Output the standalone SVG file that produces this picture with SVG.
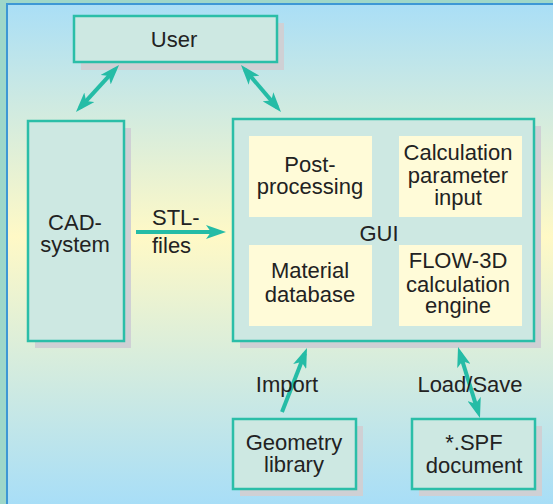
<svg xmlns="http://www.w3.org/2000/svg" width="553" height="504" viewBox="0 0 553 504">
<defs>
<linearGradient id="bg" x1="0" y1="0" x2="0" y2="504" gradientUnits="userSpaceOnUse">
<stop offset="0" stop-color="#a8def7"/>
<stop offset="0.47" stop-color="#fff9c6"/>
<stop offset="1" stop-color="#a8def7"/>
</linearGradient>
<marker id="ah" markerUnits="userSpaceOnUse" markerWidth="20" markerHeight="14" refX="14" refY="7" orient="auto-start-reverse" viewBox="0 0 20 14">
<path d="M0,0 L20,7 L0,14 L5,7 z" fill="#25bca6"/>
</marker>
</defs>
<style>
.box{fill:#cde8e2;stroke:#2bbea8;stroke-width:2.5}
.sh{fill:#cfd0d4}
.inner{fill:#fffbd8}
.t{font-family:"Liberation Sans",Arial,sans-serif;font-size:22px;fill:#222;text-anchor:middle}
.l{text-anchor:start}
.c{stroke:#25bca6;stroke-width:4;fill:none}
</style>
<rect x="0" y="0" width="553" height="504" fill="url(#bg)"/>
<rect x="0" y="0" width="6" height="504" fill="#9ed7c9"/>
<rect x="0" y="0" width="553" height="3" fill="#9ed7c9"/>
<rect x="6" y="3" width="2" height="501" fill="#3d97d5"/>
<rect x="6" y="3" width="547" height="2" fill="#3d97d5"/>

<g id="user">
<rect class="sh" x="81" y="23" width="203" height="47"/>
<rect class="box" x="74" y="16" width="203" height="46"/>
<text class="t" x="174" y="47">User</text>
</g>
<g id="cad">
<rect class="sh" x="35" y="128" width="96" height="220"/>
<rect class="box" x="28" y="121" width="96" height="220"/>
<text class="t" x="75" y="230">CAD-</text>
<text class="t" x="75" y="252">system</text>
</g>
<g id="gui">
<rect class="sh" x="240" y="126" width="301" height="222"/>
<rect class="box" x="233" y="119" width="301" height="222"/>
<text class="t" x="379" y="241">GUI</text>
</g>
<g id="post">
<rect class="inner" x="249" y="136" width="123" height="81"/>
<text class="t" x="310" y="172">Post-</text>
<text class="t" x="310" y="194">processing</text>
</g>
<g id="calcparam">
<rect class="inner" x="399" y="136" width="123" height="81"/>
<text class="t" x="458" y="160">Calculation</text>
<text class="t" x="458" y="183">parameter</text>
<text class="t" x="458" y="205">input</text>
</g>
<g id="material">
<rect class="inner" x="249" y="245" width="123" height="81"/>
<text class="t" x="310" y="278">Material</text>
<text class="t" x="310" y="302">database</text>
</g>
<g id="engine">
<rect class="inner" x="399" y="245" width="123" height="81"/>
<text class="t" x="458" y="268">FLOW-3D</text>
<text class="t" x="458" y="292">calculation</text>
<text class="t" x="458" y="313">engine</text>
</g>
<g id="geometry">
<rect class="sh" x="240" y="426" width="123" height="70"/>
<rect class="box" x="233" y="419" width="123" height="70"/>
<text class="t" x="294" y="450">Geometry</text>
<text class="t" x="294" y="472">library</text>
</g>
<g id="spf">
<rect class="sh" x="419" y="426" width="123" height="70"/>
<rect class="box" x="412" y="419" width="123" height="70"/>
<text class="t" x="474" y="450">*.SPF</text>
<text class="t" x="474" y="473">document</text>
</g>

<g id="connectors">
<line class="c" x1="115" y1="69.4" x2="80" y2="107.6" marker-start="url(#ah)" marker-end="url(#ah)"/>
<line class="c" x1="244.9" y1="69.6" x2="277.1" y2="107.4" marker-start="url(#ah)" marker-end="url(#ah)"/>
<line class="c" x1="136" y1="232" x2="220" y2="232" marker-end="url(#ah)"/>
<line class="c" x1="282" y1="412" x2="304.8" y2="353.6" marker-end="url(#ah)"/>
<line class="c" x1="459.8" y1="352.7" x2="478.2" y2="412.3" marker-start="url(#ah)" marker-end="url(#ah)"/>
<text class="t l" x="152" y="225">STL-</text>
<text class="t l" x="152" y="253">files</text>
<text class="t" x="287" y="392">Import</text>
<text class="t" x="470" y="392">Load/Save</text>
</g>
</svg>
